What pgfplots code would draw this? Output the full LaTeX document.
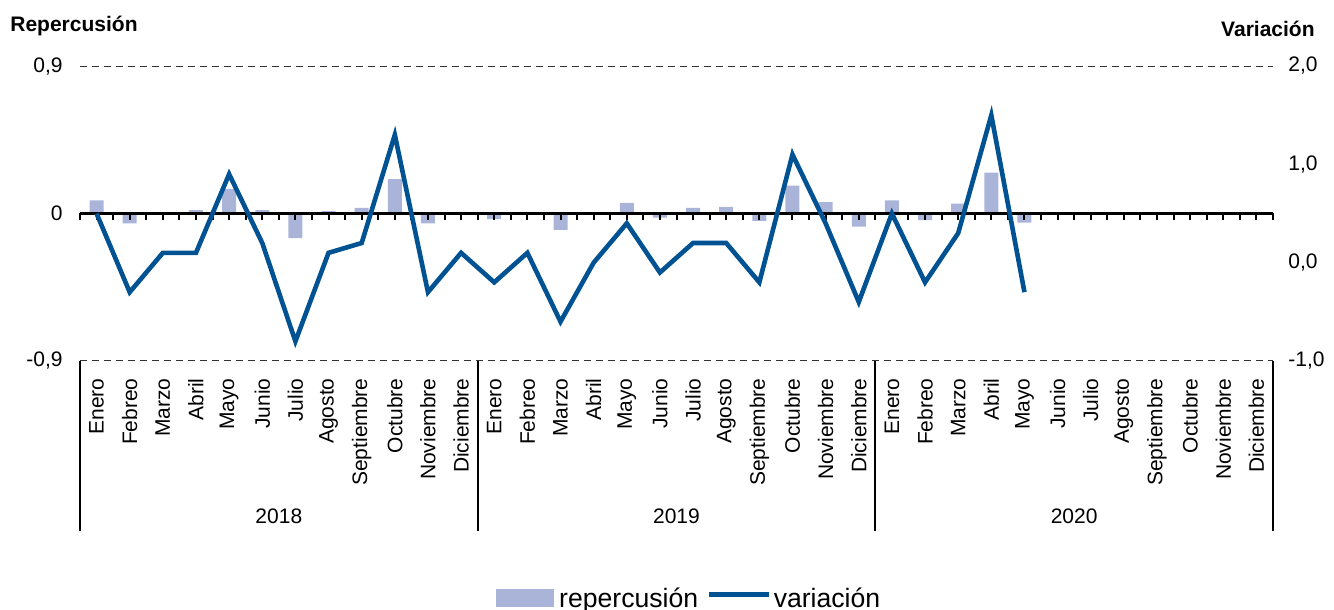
\documentclass[border=0pt]{standalone}
\usepackage{fontspec}
\setmainfont{Liberation Sans}
\usepackage{pgfplots}
\pgfplotsset{compat=1.18}
\definecolor{barc}{RGB}{169,180,216}
\definecolor{linec}{RGB}{0,82,147}
\newcommand{\fsz}{\fontsize{10.5}{12.6}\selectfont}
\newcommand{\lfsz}{\fontsize{13.3}{16}\selectfont}
\begin{document}
\begin{tikzpicture}
\pgfplotsset{
  base/.style={scale only axis, width=596.5pt, height=147.5pt, at={(0,0)}, anchor=south west,
    xmin=-0.5, xmax=35.5, clip=false, font=\fsz},
}
% left axis: repercusion (bars)
\begin{axis}[base,
  ymin=-0.9, ymax=0.9,
  ytick={-0.9,0,0.9}, yticklabels={{-0,9},{0},{0,9}},
  axis line style={draw=none},
  major tick style={draw=none},
  ymajorgrids, major grid style={dash pattern=on 3.5pt off 2.5pt, line width=0.5pt, black!80},
  xtick={0,...,35},
  xticklabels={Enero,Febreo,Marzo,Abril,Mayo,Junio,Julio,Agosto,Septiembre,Octubre,Noviembre,Diciembre,
               Enero,Febreo,Marzo,Abril,Mayo,Junio,Julio,Agosto,Septiembre,Octubre,Noviembre,Diciembre,
               Enero,Febreo,Marzo,Abril,Mayo,Junio,Julio,Agosto,Septiembre,Octubre,Noviembre,Diciembre},
  xticklabel style={rotate=90, anchor=east, inner sep=0pt},
  xticklabel shift=8.5pt,
  yticklabel style={inner sep=0pt},
  yticklabel shift=8.5pt,
]
\addplot[ybar, bar width=7pt, fill=barc, draw=none] coordinates {
(0,0.08) (1,-0.06) (2,0.003) (3,0.02) (4,0.15) (5,0.02) (6,-0.15) (7,0.015) (8,0.035) (9,0.21) (10,-0.06) (11,0.01)
(12,-0.035) (13,0.01) (14,-0.10) (15,0.0) (16,0.065) (17,-0.025) (18,0.035) (19,0.04) (20,-0.045) (21,0.17) (22,0.07) (23,-0.08)
(24,0.08) (25,-0.04) (26,0.06) (27,0.25) (28,-0.055)
};
\draw[line width=1pt] (axis cs:-0.5,-0.9) -- ++(0pt,-85pt);
\draw[line width=1pt] (axis cs:11.5,-0.9) -- ++(0pt,-85pt);
\draw[line width=1pt] (axis cs:23.5,-0.9) -- ++(0pt,-85pt);
\draw[line width=1pt] (axis cs:35.5,-0.9) -- ++(0pt,-85pt);
\node[yshift=-77.8pt] at (axis cs:5.5,-0.9) {2018};
\node[yshift=-77.8pt] at (axis cs:17.5,-0.9) {2019};
\node[yshift=-77.8pt] at (axis cs:29.5,-0.9) {2020};
\node[anchor=base west, inner sep=0pt, font=\fsz\bfseries] at (axis cs:-0.5,-0.9) [xshift=-35pt, yshift=164.6pt] {Repercusión};
\node[anchor=base east, inner sep=0pt, font=\fsz\bfseries] at (axis cs:-0.5,-0.9) [xshift=617.5pt, yshift=162.2pt] {Variación};
\end{axis}
% zero line with ticks
\begin{axis}[scale only axis, width=596.5pt, height=73.75pt, at={(0,73.75pt)}, anchor=south west,
  xmin=-0.5, xmax=35.5, ymin=0, ymax=1,
  axis x line=bottom, axis y line=none,
  axis line style={-, line width=1.2pt, black},
  xtick={-0.5,0,...,35.5}, xticklabels={},
  tick align=outside, major tick length=3.2pt,
  major tick style={line width=1pt, black},
]
\end{axis}
% right axis: variacion (line)
\begin{axis}[base,
  ymin=-1, ymax=2,
  axis x line=none, axis y line*=right,
  axis line style={draw=none},
  major tick style={draw=none},
  ytick={-1,0,1,2}, yticklabels={{-1,0},{0,0},{1,0},{2,0}},
  yticklabel style={inner sep=0pt, anchor=west},
  yticklabel shift=7.5pt,
  legend style={at={(axis description cs:0.3487,-0.807)}, anchor=west, draw=none, fill=none,
    legend columns=-1, inner sep=0pt, font=\lfsz,
    nodes={inner sep=0pt},
    /tikz/every odd column/.append style={column sep=1pt},
    /tikz/every even column/.append style={column sep=4.5pt}},
]
\addlegendimage{legend image code/.code={\fill[barc] (0pt,-3.5pt) rectangle (28.5pt,4.7pt); \path (30pt,0pt);}}
\addlegendentry{repercusión}
\addplot[linec, line width=2.3pt, mark=none,
  legend image code/.code={\draw[linec, line width=2.3pt] (0pt,2.2pt) -- (30pt,2.2pt);}] coordinates {
(0,0.5) (1,-0.3) (2,0.1) (3,0.1) (4,0.9) (5,0.2) (6,-0.8) (7,0.1) (8,0.2) (9,1.3) (10,-0.3) (11,0.1)
(12,-0.2) (13,0.1) (14,-0.6) (15,0.0) (16,0.4) (17,-0.1) (18,0.2) (19,0.2) (20,-0.2) (21,1.1) (22,0.4) (23,-0.4)
(24,0.5) (25,-0.2) (26,0.3) (27,1.5) (28,-0.3)
};
\addlegendentry{variación}
\end{axis}
\pgfresetboundingbox
\useasboundingbox (-40pt,-124.5pt) rectangle (627pt,180.5pt);
\end{tikzpicture}
\end{document}
